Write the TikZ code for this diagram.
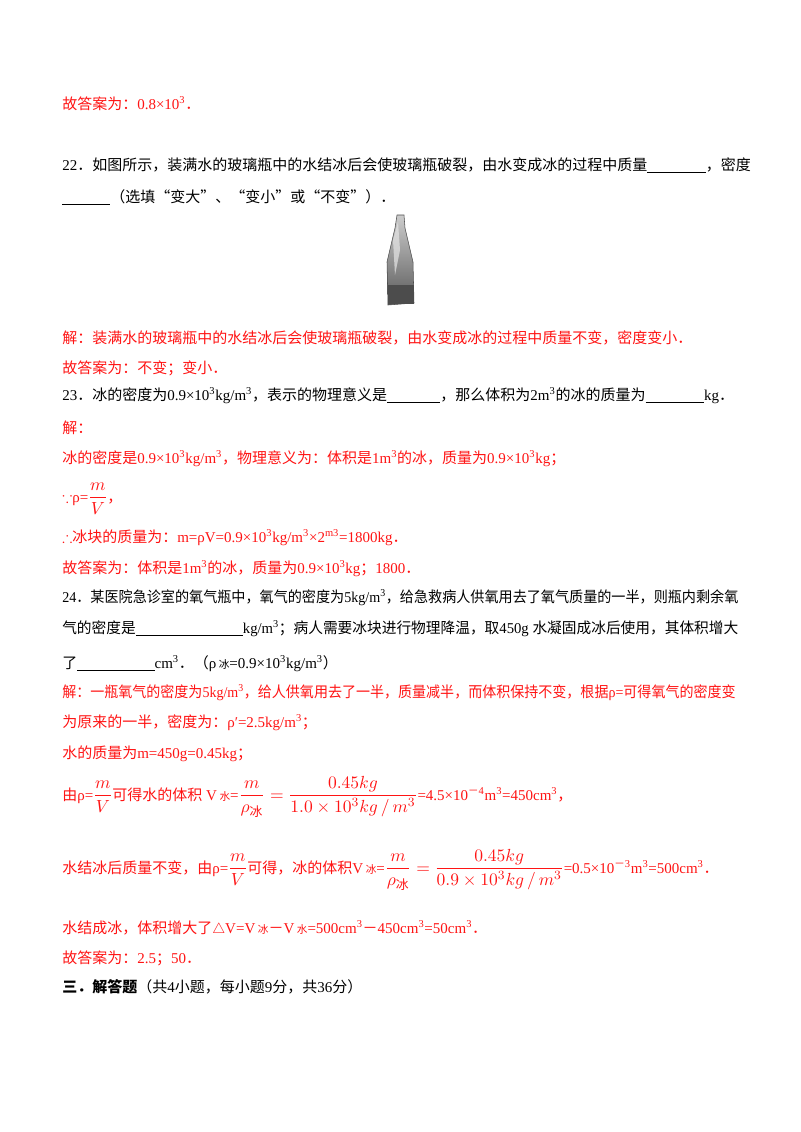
\documentclass[tikz,border=0pt]{standalone}
\usepackage{amsmath,amssymb,graphicx}
\usepackage{fontspec}
\setmainfont{Liberation Serif}
\newfontfamily\zhfam{Noto Sans CJK SC}
\newXeTeXintercharclass\zhclass
\count255="4E00 \loop \XeTeXcharclass\count255=\zhclass \ifnum\count255<"9FFF \advance\count255 1 \repeat
\count255="3000 \loop \XeTeXcharclass\count255=\zhclass \ifnum\count255<"303F \advance\count255 1 \repeat
\count255="FF00 \loop \XeTeXcharclass\count255=\zhclass \ifnum\count255<"FFEF \advance\count255 1 \repeat
\XeTeXcharclass"201C=\zhclass \XeTeXcharclass"201D=\zhclass
\XeTeXinterchartoks 0 \zhclass={\zhfam}
\XeTeXinterchartoks 4095 \zhclass={\zhfam}
\XeTeXinterchartoks \zhclass 0={\rmfamily}
\XeTeXinterchartoks \zhclass 4095={\rmfamily}
\definecolor{ans}{RGB}{255,20,20}
\newcommand{\blank}[1]{\rule[-2pt]{#1}{0.6pt}}
\newcommand{\bing}{\hbox{\zhfam\footnotesize 冰}}
\newcommand{\bm}[1]{\scalebox{1.2}{$#1$}}
\begin{document}
\XeTeXinterchartokenstate=1
\begin{tikzpicture}[x=0.75pt,y=-0.75pt,
  t/.style={anchor=base west,inner sep=0pt,font=\fontsize{11.25}{13}\selectfont},
  r/.style={t,text=ans}]
\useasboundingbox (0,0) rectangle (800,1132);
\fill[white] (0,0) rectangle (800,1132);
\node[r] (l1) at (62,109) {故答案为：0.8×10\textsuperscript{3}．};
\node[t] (l2) at (62,170) {22．如图所示，装满水的玻璃瓶中的水结冰后会使玻璃瓶破裂，由水变成冰的过程中质量\blank{44pt}，密度};
\node[t] (l3) at (62,202) {\blank{36pt}（选填“变大”、“变小”或“不变”）．};
% bottle
\shade[top color=gray!40,bottom color=gray!70!black,draw=gray!60!black,line width=0.4pt]
  (397,215) -- (404,215) -- (405,228) -- (409,245) -- (413,262) -- (414,303) -- (388,305) -- (387,262) -- (391,245) -- (395,228) -- cycle;
\fill[gray!20,opacity=0.7] (393,240) -- (398,222) -- (400,250) -- (395,275) -- cycle;
\fill[gray!60!black] (388,285) rectangle (414,304);
\node[r] (l4) at (62,343) {解：装满水的玻璃瓶中的水结冰后会使玻璃瓶破裂，由水变成冰的过程中质量不变，密度变小．};
\node[r] (l5) at (62,373) {故答案为：不变；变小．};
\node[t] (l6) at (62,400) {23．冰的密度为0.9×10\textsuperscript{3}kg/m\textsuperscript{3}，表示的物理意义是\blank{40pt}，那么体积为2m\textsuperscript{3}的冰的质量为\blank{44pt}kg．};
\node[r] (l7) at (62,433) {解：};
\node[r] (l8) at (62,463) {冰的密度是0.9×10\textsuperscript{3}kg/m\textsuperscript{3}，物理意义为：体积是1m\textsuperscript{3}的冰，质量为0.9×10\textsuperscript{3}kg；};
\node[r] (l9) at (62,502) {$\because$ρ=\bm{\dfrac{m}{V}}，};
\node[r] (l10) at (62,542) {$\boldsymbol\therefore$冰块的质量为：m=ρV=0.9×10\textsuperscript{3}kg/m\textsuperscript{3}×2\textsuperscript{m3}=1800kg．};
\node[r] (l11) at (62,573) {故答案为：体积是1m\textsuperscript{3}的冰，质量为0.9×10\textsuperscript{3}kg；1800．};
\node[t] (l12) at (62,602) {\scalebox{0.94}[1]{24．某医院急诊室的氧气瓶中，氧气的密度为5kg/m\textsuperscript{3}，给急救病人供氧用去了氧气质量的一半，则瓶内剩余氧}};
\node[t] (l13) at (62,633) {\scalebox{0.98}[1]{气的密度是\blank{82pt}kg/m\textsuperscript{3}；病人需要冰块进行物理降温，取450g 水凝固成冰后使用，其体积增大}};
\node[t] (l14) at (62,668) {了\blank{58pt}cm\textsuperscript{3}．（ρ\,{\footnotesize 冰}=0.9×10\textsuperscript{3}kg/m\textsuperscript{3}）};
\node[r] (l15) at (62,697) {\scalebox{0.935}[1]{解：一瓶氧气的密度为5kg/m\textsuperscript{3}，给人供氧用去了一半，质量减半，而体积保持不变，根据ρ=可得氧气的密度变}};
\node[r] (l16) at (62,727) {为原来的一半，密度为：ρ′=2.5kg/m\textsuperscript{3}；};
\node[r] (l17) at (62,758) {水的质量为m=450g=0.45kg；};
\node[r] (l18) at (62,800) {由ρ=\bm{\dfrac{m}{V}}可得水的体积 V\,{\footnotesize 水}=\bm{\dfrac{m}{\rho_{\bing}}=\dfrac{0.45kg}{1.0\times10^3kg\,/\,m^3}}=4.5×10\textsuperscript{－4}m\textsuperscript{3}=450cm\textsuperscript{3}，};
\node[r] (l19) at (62,873) {水结冰后质量不变，由ρ=\bm{\dfrac{m}{V}}可得，冰的体积V\,{\footnotesize 冰}=\bm{\dfrac{m}{\rho_{\bing}}=\dfrac{0.45kg}{0.9\times10^3kg\,/\,m^3}}=0.5×10\textsuperscript{－3}m\textsuperscript{3}=500cm\textsuperscript{3}．};
\node[r] (l20) at (62,933) {水结成冰，体积增大了$\triangle$V=V\,{\footnotesize 冰}－V\,{\footnotesize 水}=500cm\textsuperscript{3}－450cm\textsuperscript{3}=50cm\textsuperscript{3}．};
\node[r] (l21) at (62,963) {故答案为：2.5；50．};
\node[t] (l22) at (62,992) {{\bfseries 三．解答题}（共4小题，每小题9分，共36分）};
\end{tikzpicture}
\end{document}
